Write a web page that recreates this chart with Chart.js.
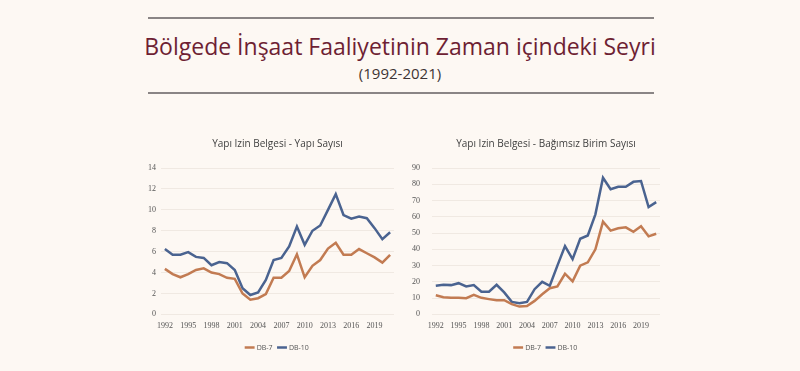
<!DOCTYPE html>
<html>
<head>
<meta charset="utf-8">
<script src="https://cdn.jsdelivr.net/npm/chart.js@4"></script>
<style>
  body { margin: 0; background: #fdf8f3; width: 800px; height: 371px; overflow: hidden; position: relative; font-family: "Open Sans", sans-serif; }
  .rule { position: absolute; left: 148px; width: 506px; height: 2px; background: #8a8585; }
  #title { position: absolute; left: 0; width: 800px; top: 30px; text-align: center; font-size: 23px; color: #6e1f33; }
  #sub { position: absolute; left: 0; width: 800px; top: 63px; text-align: center; font-size: 15px; color: #3d3434; }
  .box { position: absolute; top: 133px; height: 228px; }
</style>
</head>
<body>
<div class="rule" style="top:17px"></div>
<div id="title">Bölgede İnşaat Faaliyetinin Zaman içindeki Seyri</div>
<div id="sub">(1992-2021)</div>
<div class="rule" style="top:92px"></div>
<div class="box" style="left:138px;width:268px"><canvas id="c1"></canvas></div>
<div class="box" style="left:400px;width:272px"><canvas id="c2"></canvas></div>
<script>
const years = [];
for (let y = 1992; y <= 2021; y++) years.push(String(y));

// Yapı Sayısı
const yapiDB7 = [4.35, 3.85, 3.55, 3.85, 4.25, 4.4, 4.0, 3.85, 3.5, 3.4, 2.0, 1.4, 1.55, 1.95, 3.5, 3.5, 4.15, 5.75, 3.55, 4.65, 5.2, 6.3, 6.85, 5.7, 5.7, 6.25, 5.85, 5.45, 4.95, 5.7];
const yapiDB10 = [6.25, 5.7, 5.7, 5.95, 5.5, 5.4, 4.7, 5.0, 4.9, 4.25, 2.5, 1.85, 2.1, 3.3, 5.2, 5.4, 6.5, 8.4, 6.65, 8.0, 8.5, 10.0, 11.5, 9.5, 9.15, 9.35, 9.2, 8.25, 7.2, 7.85];

// Bağımsız Birim Sayısı
const birimDB7 = [11.8, 10.6, 10.2, 10.2, 10.0, 12.0, 10.2, 9.4, 8.7, 8.7, 6.3, 4.8, 5.2, 8.3, 12.4, 16.1, 17.2, 25.0, 20.3, 30.0, 32.0, 40.0, 57.0, 51.5, 53.0, 53.5, 50.8, 54.2, 48.0, 49.6];
const birimDB10 = [17.6, 18.2, 18.0, 19.2, 17.2, 18.0, 14.0, 14.0, 18.2, 13.5, 7.7, 6.8, 7.7, 15.5, 20.0, 17.6, 30.0, 42.0, 34.0, 46.5, 48.5, 61.5, 84.0, 77.0, 78.5, 78.5, 81.5, 82.0, 66.0, 69.0];

const orange = "#c27b52";
const blue = "#4a6390";

function makeChart(id, title, db7, db10, max, step, padLeft, yPad) {
  return new Chart(document.getElementById(id), {
    type: "line",
    data: {
      labels: years,
      datasets: [
        { label: "DB-7", data: db7, borderColor: orange, backgroundColor: orange, borderWidth: 2.5, pointRadius: 0, tension: 0 },
        { label: "DB-10", data: db10, borderColor: blue, backgroundColor: blue, borderWidth: 2.5, pointRadius: 0, tension: 0 }
      ]
    },
    options: {
      responsive: true,
      maintainAspectRatio: false,
      animation: false,
      layout: { autoPadding: false, padding: { left: padLeft, right: 12, top: 2, bottom: 0 } },
      plugins: {
        title: {
          display: true, fullSize: false, text: title, color: "#3f3f3f",
          font: { family: "Open Sans", size: 10, weight: "normal" }, padding: { top: 3, bottom: 18 }
        },
        legend: {
          position: "bottom",
          fullSize: false,
          labels: { usePointStyle: true, pointStyle: "line", boxWidth: 18, padding: 6, color: "#555", font: { family: "Open Sans", size: 7 } }
        },
        tooltip: { enabled: false }
      },
      scales: {
        x: {
          offset: true,
          grid: { display: false, drawTicks: false },
          border: { display: false },
          ticks: {
            autoSkip: false, maxRotation: 0, padding: 7, color: "#555", font: { family: "Liberation Sans Narrow", size: 8 },
            callback: function (v, i) { return i % 3 === 0 ? years[i] : ""; }
          }
        },
        y: {
          min: 0, max: max,
          grid: { color: "#f0e9e2", drawTicks: false },
          border: { display: false },
          ticks: { stepSize: step, color: "#555", font: { family: "Liberation Sans Narrow", size: 8 }, padding: yPad }
        }
      }
    }
  });
}

makeChart("c1", "Yapı Izin Belgesi - Yapı Sayısı", yapiDB7, yapiDB10, 14, 2, 5, 5);
makeChart("c2", "Yapı Izin Belgesi - Bağımsız Birim Sayısı", birimDB7, birimDB10, 90, 10, 0, 12);
</script>
</body>
</html>
